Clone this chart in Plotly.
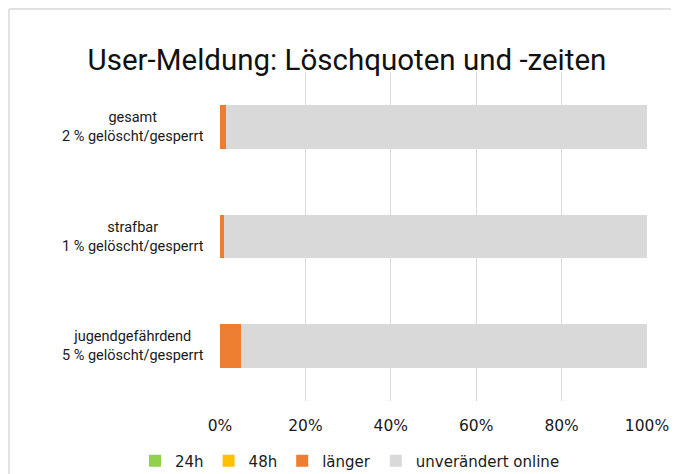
import plotly.graph_objects as go

categories = ["gesamt", "strafbar", "jugendgefährdend"]
quote_labels = ["2 % gelöscht/gesperrt", "1 % gelöscht/gesperrt", "5 % gelöscht/gesperrt"]
v_24h = [0.0, 0.0, 0.0]
v_48h = [0.0, 0.0, 0.0]
v_laenger = [1.5, 0.9, 4.9]
v_online = [100 - a - b - c for a, b, c in zip(v_24h, v_48h, v_laenger)]
tick_vals = [0, 20, 40, 60, 80, 100]
tick_text = ["0%", "20%", "40%", "60%", "80%", "100%"]

FONT = "Roboto"
WIDE = "DejaVu Sans"
TXT = "#1a1a1a"

fig = go.Figure()
series = [
    ("24h", v_24h, "#92D050"),
    ("48h", v_48h, "#FFC000"),
    ("länger", v_laenger, "#ED7D31"),
    ("unverändert online", v_online, "#D9D9D9"),
]
for name, vals, col in series:
    fig.add_trace(go.Bar(
        y=categories, x=vals, name=name, orientation="h",
        marker=dict(color=col, line=dict(width=0)),
        hoverinfo="x+name",
    ))

OFF = 8  # page body margin
W, H = 679 - OFF, 474 - OFF
L = 220 - OFF
T = 72 - OFF
R = W - (647 - OFF)
B = H - (401 - OFF)
pw, ph = W - L - R, H - T - B

def px(x):
    return (x - OFF - L) / pw

def py(y):
    return 1 - (y - OFF - T) / ph

annotations = []
for c, q in zip(categories, quote_labels):
    annotations.append(dict(
        x=px(206), xref="paper", y=c, yref="y", xanchor="right", yanchor="middle",
        text=f"{c}<br>{q}", showarrow=False, align="center",
        font=dict(family=FONT, size=14.5, color=TXT),
    ))

border = dict(color="#D9D9D9", width=1.5)
fig.update_layout(
    width=W, height=H,
    margin=dict(l=L, r=R, t=T, b=B, autoexpand=False),
    paper_bgcolor="white", plot_bgcolor="white",
    barmode="stack", bargap=0.6,
    font=dict(family=FONT, size=15, color=TXT),
    title=dict(text="User-Meldung: Löschquoten und -zeiten",
               x=px(347), xref="paper", xanchor="center",
               y=1 - (60 - OFF) / H, yref="container", yanchor="middle",
               font=dict(family=FONT, size=29.5, color="#111111")),
    xaxis=dict(range=[0, 100], tickvals=tick_vals, ticktext=tick_text,
               showgrid=True, gridcolor="#D9D9D9", gridwidth=1, zeroline=False,
               showline=False, ticks="", ticklabelstandoff=13,
               tickfont=dict(family=WIDE, size=15.5, color=TXT), fixedrange=True),
    yaxis=dict(autorange="reversed", showticklabels=False, showgrid=False,
               zeroline=False, showline=False, ticks="", fixedrange=True),
    legend=dict(orientation="h", x=px(350), xanchor="center", y=py(461), yanchor="middle",
                font=dict(family=WIDE, size=15, color=TXT), traceorder="normal",
                itemwidth=30, tracegroupgap=0),
    annotations=annotations,
    shapes=[
        dict(type="line", xref="paper", yref="paper",
             x0=px(9), x1=px(690), y0=py(9), y1=py(9), line=border, layer="below"),
        dict(type="line", xref="paper", yref="paper",
             x0=px(9), x1=px(9), y0=py(9), y1=py(490), line=border, layer="below"),
    ],
    showlegend=True,
)

fig.write_html("out.html")
